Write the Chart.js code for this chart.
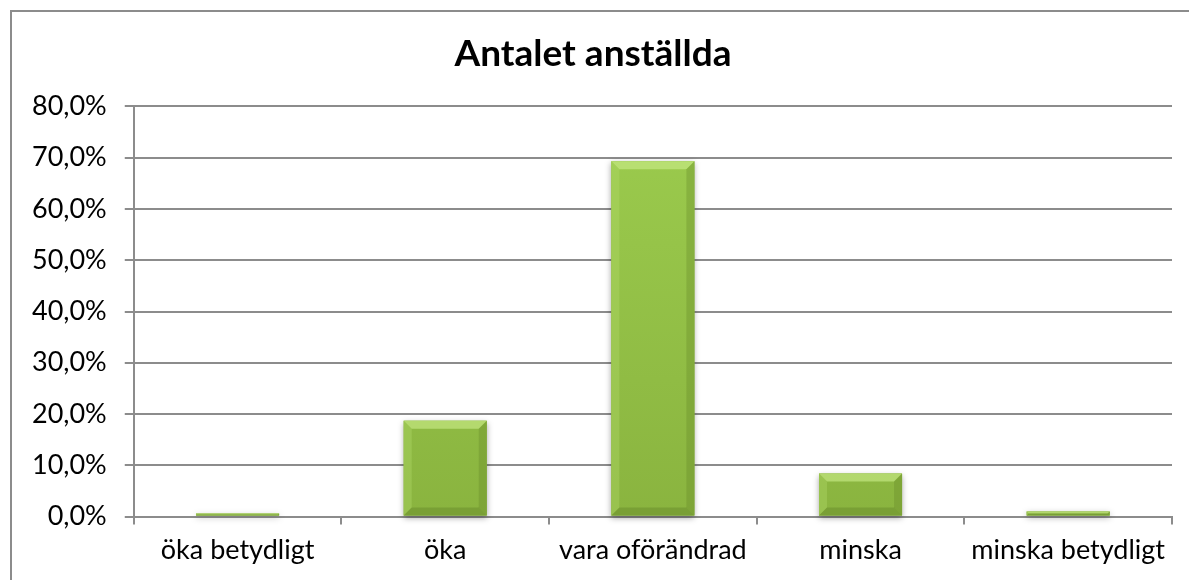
<!DOCTYPE html>
<html>
<head>
<meta charset="utf-8">
<script src="https://cdn.jsdelivr.net/npm/chart.js@4"></script>
<style>
  html, body { margin: 0; padding: 0; background: #fff; }
  #wrap { width: 1189px; height: 580px; position: relative; }
</style>
</head>
<body>
<div id="wrap"><canvas id="grafico"></canvas></div>
<script>
const kategorier = ['öka betydligt', 'öka', 'vara oförändrad', 'minska', 'minska betydligt'];
const andelar = [0.6, 18.7, 69.3, 8.4, 1.0];
const yTicks = [0, 10, 20, 30, 40, 50, 60, 70, 80];

const fontFamily = 'Lato, "DejaVu Sans", sans-serif';

// ram runt hela diagrammet (går utanför bilden till höger och nedåt)
const ramPlugin = {
  id: 'ram',
  afterDraw(chart) {
    const c = chart.ctx;
    c.save();
    c.strokeStyle = '#8c8c8c';
    c.lineWidth = 2;
    c.beginPath();
    c.moveTo(11, chart.height + 5);
    c.lineTo(11, 11);
    c.lineTo(chart.width + 5, 11);
    c.stroke();
    c.restore();
  }
};

// skugga + fasad kant på staplarna
const fasPlugin = {
  id: 'fas',
  beforeDatasetsDraw(chart) {
    const c = chart.ctx;
    chart.getDatasetMeta(0).data.forEach(bar => {
      const x0 = bar.x - bar.width / 2;
      c.save();
      c.shadowColor = 'rgba(0,0,0,0.35)';
      c.shadowBlur = 6;
      c.shadowOffsetY = 2;
      c.fillStyle = '#8ab43f';
      c.fillRect(x0, bar.y, bar.width, bar.base - bar.y);
      c.restore();
    });
  },
  afterDatasetsDraw(chart) {
    const c = chart.ctx;
    chart.getDatasetMeta(0).data.forEach(bar => {
      const x0 = bar.x - bar.width / 2, x1 = bar.x + bar.width / 2;
      const y0 = bar.y, y1 = bar.base;
      const h = y1 - y0;
      const b = Math.min(8, h / 2);
      c.save();
      // ljus topp
      c.fillStyle = 'rgba(205,238,140,0.6)';
      c.beginPath();
      c.moveTo(x0, y0); c.lineTo(x1, y0); c.lineTo(x1 - b, y0 + b); c.lineTo(x0 + b, y0 + b);
      c.closePath(); c.fill();
      // vänster kant
      c.fillStyle = 'rgba(180,222,110,0.35)';
      c.beginPath();
      c.moveTo(x0, y0); c.lineTo(x0 + b, y0 + b); c.lineTo(x0 + b, y1 - b); c.lineTo(x0, y1);
      c.closePath(); c.fill();
      // höger kant
      c.fillStyle = 'rgba(95,130,35,0.3)';
      c.beginPath();
      c.moveTo(x1, y0); c.lineTo(x1 - b, y0 + b); c.lineTo(x1 - b, y1 - b); c.lineTo(x1, y1);
      c.closePath(); c.fill();
      // botten
      c.fillStyle = 'rgba(90,120,35,0.35)';
      c.beginPath();
      c.moveTo(x0, y1); c.lineTo(x0 + b, y1 - b); c.lineTo(x1 - b, y1 - b); c.lineTo(x1, y1);
      c.closePath(); c.fill();
      c.restore();
    });
  }
};

const ctx = document.getElementById('grafico').getContext('2d');

new Chart(ctx, {
  type: 'bar',
  data: {
    labels: kategorier,
    datasets: [{
      label: 'Antalet anställda',
      data: andelar,
      backgroundColor: (context) => {
        const area = context.chart.chartArea;
        if (!area) return '#96c24a';
        const g = context.chart.ctx.createLinearGradient(0, area.top, 0, area.bottom);
        g.addColorStop(0, '#9ccc4e');
        g.addColorStop(1, '#8ab43f');
        return g;
      },
      borderWidth: 0,
      barPercentage: 0.4,
      categoryPercentage: 1.0
    }]
  },
  options: {
    responsive: true,
    maintainAspectRatio: false,
    animation: false,
    layout: { padding: { left: 14, right: 17, top: 24, bottom: 5 } },
    plugins: {
      legend: { display: false },
      tooltip: { enabled: false },
      title: {
        display: true,
        text: 'Antalet anställda',
        color: '#000',
        font: { family: fontFamily, size: 37, weight: 'bold' },
        padding: { top: 8, bottom: 30 }
      }
    },
    scales: {
      x: {
        grid: {
          drawOnChartArea: false,
          drawTicks: true,
          tickLength: 8,
          color: '#8c8c8c',
          lineWidth: 2,
          offset: true
        },
        border: { color: '#8c8c8c', width: 2 },
        ticks: {
          color: '#000',
          font: { family: fontFamily, size: 27 },
          padding: 9,
          maxRotation: 0
        }
      },
      y: {
        min: 0,
        max: 80,
        afterBuildTicks: (axis) => { axis.ticks = yTicks.map(v => ({ value: v })); },
        grid: {
          color: '#8c8c8c',
          lineWidth: 2,
          drawTicks: true,
          tickLength: 9
        },
        border: { color: '#8c8c8c', width: 2 },
        ticks: {
          color: '#000',
          font: { family: fontFamily, size: 27 },
          padding: 18,
          callback: (v) => v.toFixed(1).replace('.', ',') + '%'
        }
      }
    }
  },
  plugins: [ramPlugin, fasPlugin]
});
</script>
</body>
</html>
